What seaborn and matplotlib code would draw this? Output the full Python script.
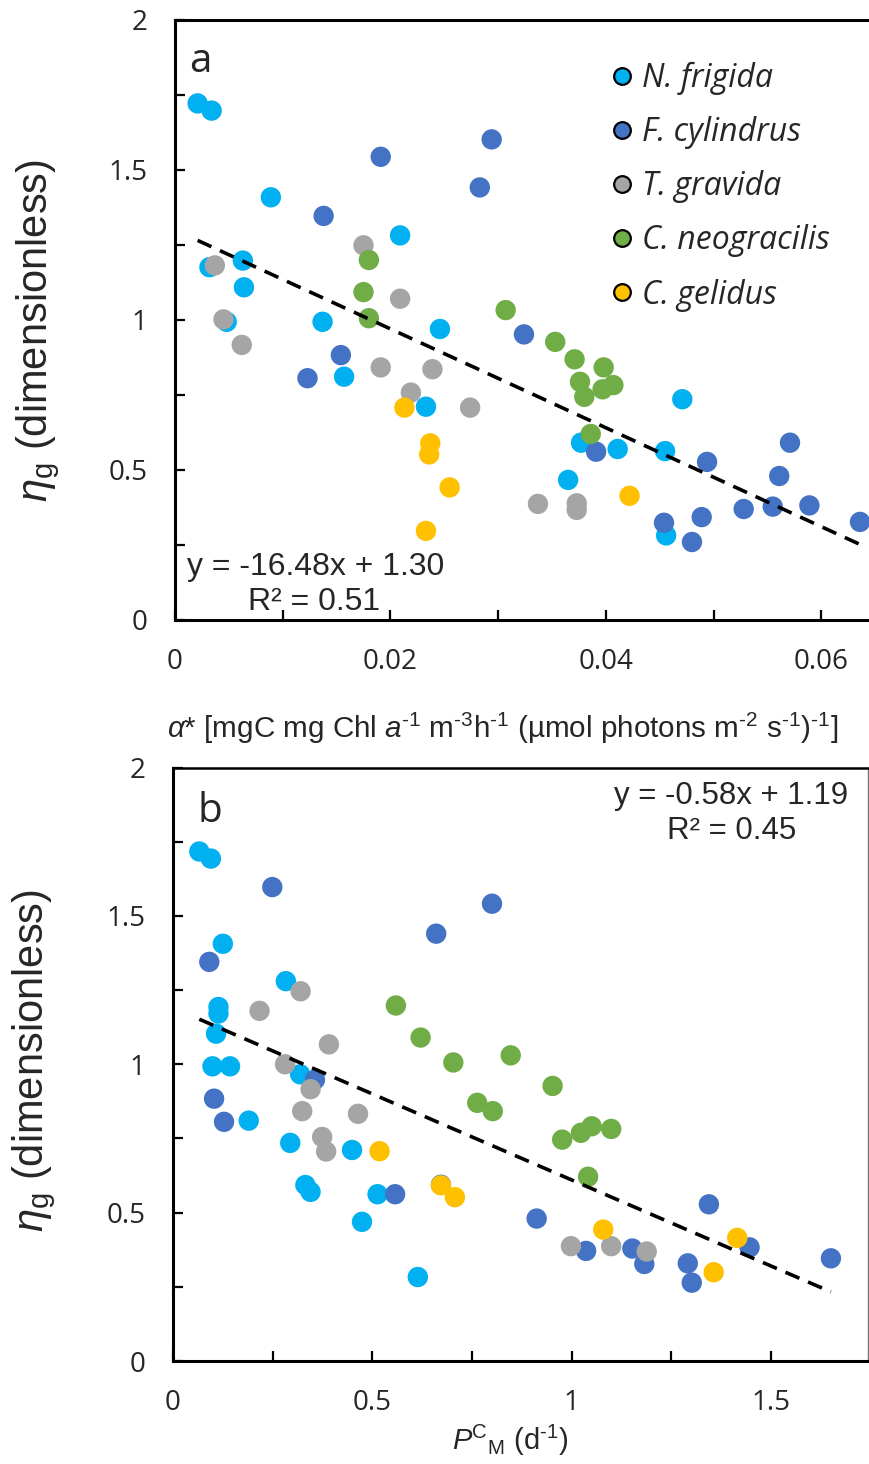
import numpy as np
import pandas as pd
import matplotlib
matplotlib.use("Agg")
import matplotlib.pyplot as plt
from matplotlib.lines import Line2D
from matplotlib.ticker import MultipleLocator
import seaborn as sns

# ---------------- data ----------------
species = ["N. frigida", "F. cylindrus", "T. gravida", "C. neogracilis", "C. gelidus"]
colors = ["#00B0F0", "#4472C4", "#A5A5A5", "#70AD47", "#FFC000"]

# Panel a: alpha* (x) vs eta_g (y)
a_nfr_x = [0.0021, 0.0034, 0.0089, 0.0209, 0.0063, 0.0032, 0.0064, 0.0137, 0.0048, 0.0246,
           0.0157, 0.0233, 0.0471, 0.0377, 0.0411, 0.0455, 0.0365, 0.0456]
a_nfr_y = [1.722, 1.698, 1.409, 1.282, 1.198, 1.176, 1.109, 0.994, 0.994, 0.970,
           0.811, 0.711, 0.736, 0.591, 0.570, 0.563, 0.467, 0.282]
a_fcy_x = [0.0191, 0.0294, 0.0283, 0.0138, 0.0154, 0.0123, 0.0324, 0.0391, 0.0494, 0.0571,
           0.0561, 0.0528, 0.0555, 0.0589, 0.0636, 0.0454, 0.0489, 0.0480]
a_fcy_y = [1.544, 1.602, 1.442, 1.347, 0.883, 0.806, 0.952, 0.561, 0.527, 0.591,
           0.480, 0.370, 0.378, 0.382, 0.327, 0.324, 0.343, 0.260]
a_tgr_x = [0.0175, 0.0037, 0.0209, 0.0045, 0.0062, 0.0191, 0.0239, 0.0219, 0.0274, 0.0337,
           0.0373, 0.0373]
a_tgr_y = [1.249, 1.182, 1.071, 1.002, 0.917, 0.842, 0.836, 0.758, 0.708, 0.387,
           0.389, 0.367]
a_cne_x = [0.0180, 0.0175, 0.0307, 0.0180, 0.0353, 0.0371, 0.0398, 0.0376, 0.0407, 0.0397,
           0.0380, 0.0386]
a_cne_y = [1.200, 1.093, 1.033, 1.006, 0.927, 0.869, 0.842, 0.794, 0.783, 0.769,
           0.744, 0.620]
a_cge_x = [0.0213, 0.0237, 0.0236, 0.0255, 0.0233, 0.0422]
a_cge_y = [0.708, 0.589, 0.552, 0.442, 0.297, 0.414]

# Panel b: P^C_M (x) vs eta_g (y)
b_nfr_x = [0.066, 0.095, 0.125, 0.283, 0.114, 0.114, 0.108, 0.099, 0.143, 0.319,
           0.190, 0.294, 0.449, 0.332, 0.345, 0.513, 0.474, 0.614]
b_nfr_y = [1.717, 1.693, 1.406, 1.280, 1.193, 1.171, 1.103, 0.993, 0.993, 0.966,
           0.810, 0.735, 0.711, 0.593, 0.570, 0.562, 0.469, 0.283]
b_fcy_x = [0.249, 0.800, 0.660, 0.091, 0.356, 0.103, 0.128, 0.557, 0.672, 0.912,
           1.036, 1.152, 1.182, 1.344, 1.446, 1.291, 1.301, 1.650]
b_fcy_y = [1.597, 1.541, 1.440, 1.345, 0.948, 0.884, 0.806, 0.562, 0.594, 0.480,
           0.371, 0.379, 0.327, 0.528, 0.383, 0.329, 0.264, 0.346]
b_tgr_x = [0.320, 0.217, 0.391, 0.281, 0.345, 0.324, 0.464, 0.374, 0.384, 0.998,
           1.099, 1.188]
b_tgr_y = [1.246, 1.180, 1.067, 1.000, 0.916, 0.842, 0.833, 0.755, 0.706, 0.387,
           0.387, 0.369]
b_cne_x = [0.559, 0.621, 0.703, 0.847, 0.763, 0.802, 0.952, 0.976, 1.023, 1.050,
           1.099, 1.041]
b_cne_y = [1.198, 1.090, 1.006, 1.030, 0.870, 0.842, 0.927, 0.746, 0.769, 0.791,
           0.782, 0.621]
b_cge_x = [0.518, 0.672, 0.707, 1.079, 1.415, 1.356]
b_cge_y = [0.707, 0.592, 0.552, 0.443, 0.415, 0.299]

# Trend lines (as reported)
a_slope, a_intercept, a_r2 = -16.48, 1.30, 0.51
b_slope, b_intercept, b_r2 = -0.58, 1.19, 0.45

x_ticks_a = [0, 0.02, 0.04, 0.06]
x_tick_labels_a = ["0", "0.02", "0.04", "0.06"]
x_ticks_b = [0, 0.5, 1, 1.5]
x_tick_labels_b = ["0", "0.5", "1", "1.5"]
y_ticks = [0, 0.5, 1, 1.5, 2]
y_tick_labels = ["0", "0.5", "1", "1.5", "2"]


def build(xs, ys):
    frames = []
    for sp, x, y in zip(species, xs, ys):
        frames.append(pd.DataFrame({"x": x, "y": y, "species": sp}))
    return pd.concat(frames, ignore_index=True)


df_a = build([a_nfr_x, a_fcy_x, a_tgr_x, a_cne_x, a_cge_x],
             [a_nfr_y, a_fcy_y, a_tgr_y, a_cne_y, a_cge_y])
df_b = build([b_nfr_x, b_fcy_x, b_tgr_x, b_cne_x, b_cge_x],
             [b_nfr_y, b_fcy_y, b_tgr_y, b_cne_y, b_cge_y])

# ---------------- style ----------------
sns.set_style("ticks")
plt.rcParams["font.family"] = ["Liberation Sans", "DejaVu Sans"]
plt.rcParams["mathtext.fontset"] = "custom"
plt.rcParams["mathtext.rm"] = "Liberation Sans"
plt.rcParams["mathtext.it"] = "Liberation Sans:italic"
plt.rcParams["mathtext.bf"] = "Liberation Sans:bold"

palette = dict(zip(species, colors))

W, H = 869, 1464
fig = plt.figure(figsize=(W / 100, H / 100), dpi=100)
ax1 = fig.add_axes([175 / W, (H - 620) / H, 694.7 / W, 600 / H])
ax2 = fig.add_axes([173 / W, (H - 1361) / H, 695 / W, 593.5 / H])

tick_font = {"family": "Open Sans", "size": 20}


def style_axis(ax, xlim, xmin, xt, xtl):
    ax.set_xlim(*xlim)
    ax.set_ylim(0, 2)
    ax.set_xticks(xt)
    ax.set_xticklabels(xtl, fontdict=tick_font)
    ax.set_yticks(y_ticks)
    ax.set_yticklabels(y_tick_labels, fontdict=tick_font)
    ax.xaxis.set_minor_locator(MultipleLocator(xmin))
    ax.yaxis.set_minor_locator(MultipleLocator(0.25))
    ax.tick_params(which="both", direction="in", length=7, width=1.6, color="black")
    ax.tick_params(axis="x", which="major", pad=20)
    ax.tick_params(axis="y", which="major", pad=20)
    for s in ["left", "bottom"]:
        ax.spines[s].set_linewidth(2.2)
        ax.spines[s].set_color("black")


for ax, df, slope, icpt in [(ax1, df_a, a_slope, a_intercept), (ax2, df_b, b_slope, b_intercept)]:
    sns.scatterplot(data=df, x="x", y="y", hue="species", palette=palette, s=215,
                    edgecolor="none", linewidth=0, legend=False, ax=ax, zorder=2)
    xs = np.array([df["x"].min(), df["x"].max()])
    ax.plot(xs, slope * xs + icpt, color="black", lw=2.6, ls=(0, (4.2, 2.6)), zorder=3)
    ax.set_xlabel("")
    ax.set_ylabel("")

style_axis(ax1, (0, 0.0645), 0.01, x_ticks_a, x_tick_labels_a)
style_axis(ax2, (0, 1.743), 0.25, x_ticks_b, x_tick_labels_b)

ax1.spines["right"].set_visible(False)
ax1.spines["top"].set_linewidth(2.2)
ax1.spines["top"].set_color("black")
ax2.spines["top"].set_linewidth(1.8)
ax2.spines["top"].set_color("black")
ax2.spines["right"].set_linewidth(1.0)
ax2.spines["right"].set_color("#707070")

# axis labels
ylab = r"$\it{\eta}_{\rm g}$ (dimensionless)"
for ax, yc, xc in [(ax1, 0.483, -0.197), (ax2, 0.507, -0.199)]:
    ax.set_ylabel(ylab, fontsize=30)
    ax.yaxis.set_label_coords(xc, yc)
    ax.yaxis.label.set_verticalalignment("center")
    ax.yaxis.label.set_horizontalalignment("center")

ax1.set_xlabel(r"$\it{\alpha}$* [mgC mg Chl $\it{a}$$^{\text{-1}}$ m$^{\text{-3}}$h$^{\text{-1}}$ "
               r"(µmol photons m$^{\text{-2}}$ s$^{\text{-1}}$)$^{\text{-1}}$]", fontsize=21.3)
ax1.xaxis.set_label_coords(0.471, -0.18)
ax1.xaxis.label.set_verticalalignment("center")

ax2.set_xlabel(r"$\it{P}$$^{\rm C}{}_{\rm M}$ (d$^{\text{-1}}$)", fontsize=21)
ax2.xaxis.set_label_coords(0.485, -0.133)
ax2.xaxis.label.set_verticalalignment("center")

# panel letters
ax1.text(0.037, 0.93, "a", transform=ax1.transAxes, fontsize=29, family="Open Sans",
         ha="center", va="center")
ax2.text(0.053, 0.925, "b", transform=ax2.transAxes, fontsize=29, family="Open Sans",
         ha="center", va="center")

# equations
ax1.text(0.203, 0.088, f"y = {a_slope:.2f}x + {a_intercept:.2f}", transform=ax1.transAxes,
         fontsize=23, ha="center", va="center")
ax1.text(0.2, 0.03, f"R² = {a_r2:.2f}", transform=ax1.transAxes,
         fontsize=23, ha="center", va="center")
ax2.text(0.803, 0.952, f"y = {b_slope:.2f}x + {b_intercept:.2f}", transform=ax2.transAxes,
         fontsize=22.5, ha="center", va="center")
ax2.text(0.804, 0.893, f"R² = {b_r2:.2f}", transform=ax2.transAxes,
         fontsize=22.5, ha="center", va="center")

# legend
handles = [Line2D([], [], marker="o", ls="none", markersize=12, markerfacecolor=c,
                  markeredgecolor="black", markeredgewidth=1.6) for c in colors]
leg = ax1.legend(handles, species, loc="upper left", bbox_to_anchor=(0.629, 0.93),
                 frameon=False, handlelength=0.6, handletextpad=0.33, labelspacing=0.66,
                 borderpad=0, borderaxespad=0,
                 prop={"family": "Open Sans", "style": "italic", "size": 23})

fig.savefig("out.png", dpi=100)
